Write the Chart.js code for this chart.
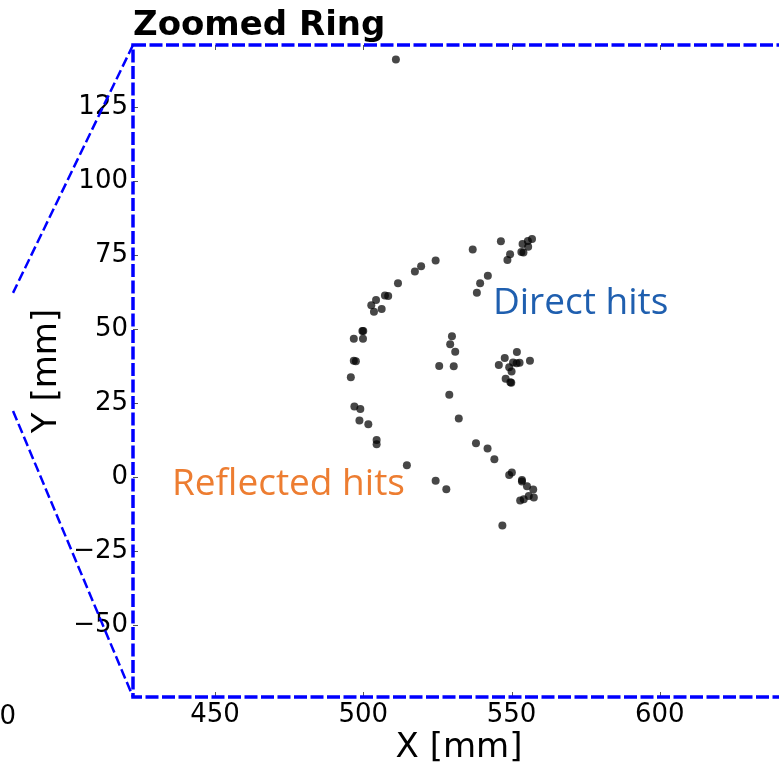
<!DOCTYPE html>
<html><head><meta charset="utf-8">
<script src="https://cdn.jsdelivr.net/npm/chart.js@4/dist/chart.umd.min.js"></script>
<style>
html,body{margin:0;padding:0;overflow:hidden;background:#fff;width:779px;height:767px}
#wrap{position:relative;width:800px;height:767px}
</style>
</head><body><div id="wrap"><canvas id="c" width="800" height="767"></canvas></div>
<script>
// ---- data ----
const hitX = [524.4,519.5,517.4,511.7,507.3,508.4,504.3,502.7,503.6,506.2,499.7,500.0,496.8,499.9,496.8,497.5,495.8,497.0,499.0,498.7,501.7,504.5,504.5,514.7,524.4,528.0,
  529.9,529.3,531.0,525.6,530.5,529.0,532.2,538.0,541.9,544.2,549.2,550.1,553.5,553.5,555.2,557.3,555.8,557.5,552.9,554.1,546.9,
  546.4,536.9,553.7,555.5,556.9,555.6,553.3,554.0,549.5,548.6,542.0,539.4,538.3,
  551.8,547.7,545.7,549.2,550.5,551.7,552.7,556.2,550.0,548.0,549.6,549.9,
  511.0];
const hitY = [73.1,71.2,69.4,65.4,61.3,61.1,59.8,58.0,55.8,56.7,49.3,49.3,46.7,46.7,39.3,39.1,33.7,23.8,23.0,19.1,17.8,12.5,11.1,4.0,-1.25,-4.1,
  47.5,44.8,42.3,37.5,37.4,27.8,19.8,11.4,9.6,6.0,0.7,1.5,-1.0,-1.5,-3.1,-4.2,-6.4,-6.9,-7.9,-7.5,-16.4,
  79.6,76.8,78.7,79.7,80.4,77.8,76.0,75.8,75.2,73.3,68.0,65.4,62.2,
  42.2,40.2,37.8,37.1,38.7,38.4,38.6,39.3,35.6,33.2,32.0,31.8,
  141.0];
const xTicks = [450, 500, 550, 600];
const yTicks = [-50, -25, 0, 25, 50, 75, 100, 125];
const xRange = [422.35, 642.2];
const yRange = [-74.3, 145.9];
// zoom connector lines (dashed), ending outside the axes
const connUpperX = [422.35, 381.9];
const connUpperY = [145.9, 62.2];
const connLowerX = [381.9, 422.35];
const connLowerY = [22.3, -74.3];
// annotation labels
const noteText = ['Direct hits', 'Reflected hits'];
const noteX = [543.7, 435.5];
const noteY = [55.1, -6.1];
const noteColor = ['#1F5FAF', '#ED7D31'];

Chart.defaults.font.family = "'DejaVu Sans', sans-serif";
Chart.defaults.color = '#000';

const pts = (xs, ys) => xs.map((x, i) => ({x, y: ys[i]}));
const BLUE = '#0000FF';

const decor = {
  id: 'decor',
  afterDatasetsDraw(chart) {
    const {ctx, chartArea: a, scales: {x, y}} = chart;
    ctx.save();
    // inward tick marks
    ctx.strokeStyle = '#555';
    ctx.lineWidth = 1;
    ctx.beginPath();
    xTicks.forEach(v => {
      const px = Math.round(x.getPixelForValue(v)) + 0.5;
      ctx.moveTo(px, a.bottom); ctx.lineTo(px, a.bottom - 5);
      ctx.moveTo(px, a.top); ctx.lineTo(px, a.top + 5);
    });
    yTicks.forEach(v => {
      const py = Math.round(y.getPixelForValue(v)) + 0.5;
      ctx.moveTo(a.left, py); ctx.lineTo(a.left + 5, py);
      ctx.moveTo(a.right, py); ctx.lineTo(a.right - 5, py);
    });
    ctx.stroke();
    // dashed blue frame
    ctx.strokeStyle = BLUE;
    ctx.lineWidth = 3.5;
    ctx.setLineDash([13, 3.5]);
    ctx.strokeRect(a.left, a.top, a.right - a.left, a.bottom - a.top);
    ctx.setLineDash([]);
    // annotations
    ctx.font = "37px 'Open Sans', sans-serif";
    ctx.textBaseline = 'alphabetic';
    ctx.textAlign = 'left';
    noteText.forEach((t, i) => {
      ctx.fillStyle = noteColor[i];
      ctx.fillText(t, x.getPixelForValue(noteX[i]), y.getPixelForValue(noteY[i]));
    });
    // stray tick label of the underlying figure
    ctx.fillStyle = '#000';
    ctx.font = "26px 'DejaVu Sans'";
    ctx.textAlign = 'right';
    ctx.fillText('0', 16, 724);
    ctx.restore();
  }
};

new Chart(document.getElementById('c'), {
  type: 'scatter',
  data: {
    datasets: [
      {
        data: pts(hitX, hitY),
        backgroundColor: 'rgba(0,0,0,0.72)',
        borderWidth: 0,
        pointRadius: 4,
        pointHoverRadius: 4
      },
      {
        type: 'line', data: pts(connUpperX, connUpperY), showLine: true,
        borderColor: BLUE, borderWidth: 2.5, borderDash: [10, 4], pointRadius: 0, clip: false, fill: false
      },
      {
        type: 'line', data: pts(connLowerX, connLowerY), showLine: true,
        borderColor: BLUE, borderWidth: 2.5, borderDash: [10, 4], pointRadius: 0, clip: false, fill: false
      }
    ]
  },
  options: {
    responsive: false,
    animation: false,
    devicePixelRatio: 1,
    events: [],
    layout: {padding: {left: 0, right: 15, top: 0, bottom: 0}},
    plugins: {
      legend: {display: false},
      tooltip: {enabled: false},
      title: {
        display: true, text: 'Zoomed Ring', align: 'start', fullSize: false,
        color: '#000',
        font: {family: "'DejaVu Sans'", size: 34, weight: 'bold', lineHeight: 1.1},
        padding: {top: 7.6, bottom: 0}
      }
    },
    scales: {
      x: {
        type: 'linear', position: 'bottom', min: xRange[0], max: xRange[1],
        afterBuildTicks: s => { s.ticks = xTicks.map(v => ({value: v})); },
        afterFit: s => { s.height = 70; },
        grid: {display: false, drawTicks: false},
        border: {display: false},
        ticks: {padding: 2.5, maxRotation: 0, font: {size: 26, lineHeight: 1.2}, color: '#000',
          callback: v => String(v).replace('-', '\u2212')},
        title: {display: true, text: 'X [mm]', color: '#000', font: {size: 34, lineHeight: 1.1}, padding: {top: 0, bottom: 0}}
      },
      y: {
        type: 'linear', position: 'left', min: yRange[0], max: yRange[1],
        afterBuildTicks: s => { s.ticks = yTicks.map(v => ({value: v})); },
        afterFit: s => { s.width = 133; },
        grid: {display: false, drawTicks: false},
        border: {display: false},
        ticks: {padding: 5, font: {size: 26, lineHeight: 1.2}, color: '#000',
          callback: v => String(v).replace('-', '\u2212')},
        title: {display: true, text: 'Y [mm]', color: '#000', font: {size: 34, lineHeight: 1.1}, padding: {top: 28, bottom: 0}}
      }
    }
  },
  plugins: [decor]
});
</script>
</body></html>
